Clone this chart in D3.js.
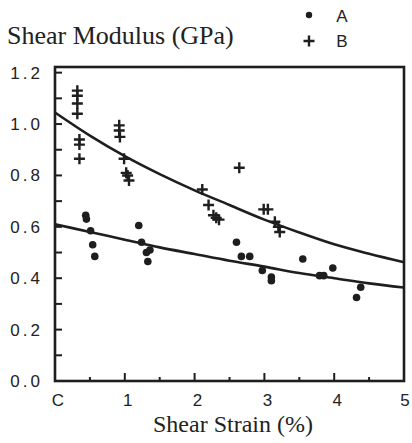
<!DOCTYPE html>
<html>
<head>
    <style>
        body { margin: 0; background: #fff; }
        .tick-label { font: 17px "Liberation Sans", Arial, sans-serif; fill: #222; }
        .serif { font-family: "Liberation Serif", "Times New Roman", serif; fill: #222; }
        .legend text { font: 17px "Liberation Sans", Arial, sans-serif; fill: #222; }
    </style>
    <script src="https://cdn.jsdelivr.net/npm/d3@7"></script>
</head>
<body>
    <svg width="412" height="443"></svg>
    <script>
        // scatter series
        var seriesAX = [0.44, 0.45, 0.51, 0.54, 0.57, 1.2, 1.24, 1.31, 1.36, 1.33, 2.6, 2.67, 2.79, 2.97, 3.1, 3.1, 3.55, 3.79, 3.85, 3.98, 4.38, 4.32];
        var seriesAY = [0.645, 0.63, 0.585, 0.53, 0.485, 0.605, 0.54, 0.50, 0.51, 0.465, 0.54, 0.485, 0.485, 0.43, 0.405, 0.39, 0.475, 0.41, 0.41, 0.44, 0.365, 0.325];

        var seriesBX = [0.32, 0.32, 0.32, 0.32, 0.35, 0.35, 0.35, 0.92, 0.92, 0.93, 0.99, 1.02, 1.04, 1.06, 2.11, 2.2, 2.27, 2.31, 2.35, 2.64, 2.99, 3.05, 3.15, 3.2, 3.22];
        var seriesBY = [1.13, 1.11, 1.08, 1.04, 0.94, 0.92, 0.865, 0.995, 0.975, 0.95, 0.865, 0.81, 0.80, 0.78, 0.745, 0.685, 0.645, 0.635, 0.628, 0.83, 0.668, 0.668, 0.62, 0.60, 0.58];

        // fitted curves
        var fitX = [0, 0.5, 1, 1.5, 2, 2.5, 3, 3.5, 4, 4.5, 5];
        var fitA = [0.61, 0.58, 0.55, 0.52, 0.494, 0.468, 0.445, 0.42, 0.40, 0.38, 0.364];
        var fitB = [1.045, 0.955, 0.875, 0.805, 0.742, 0.685, 0.628, 0.578, 0.532, 0.495, 0.462];

        var xTicks = [0, 0.5, 1, 1.5, 2, 2.5, 3, 3.5, 4, 4.5, 5];
        var xTickLabels = ["C", "1", "2", "3", "4", "5"];
        var yTicks = [0.1, 0.2, 0.3, 0.4, 0.5, 0.6, 0.7, 0.8, 0.9, 1.0, 1.1, 1.2];
        var yTickLabels = ["0.0", "0.2", "0.4", "0.6", "0.8", "1.0", "1.2"];

        var svg = d3.select("svg");
        var plotLeft = 55, plotRight = 404, plotTop = 67, plotBottom = 381;

        var x = d3.scaleLinear().domain([0, 5]).range([plotLeft, plotRight]);
        var y = d3.scaleLinear().domain([0, 1.222]).range([plotBottom, plotTop]);

        var ink = "#1e1e1e";

        // frame
        svg.append("rect")
           .attr("x", plotLeft).attr("y", plotTop)
           .attr("width", plotRight - plotLeft).attr("height", plotBottom - plotTop)
           .attr("fill", "none").attr("stroke", ink).attr("stroke-width", 2.6);

        // inward ticks
        svg.selectAll(".ytick").data(yTicks).enter().append("line")
           .attr("x1", plotLeft).attr("x2", plotLeft + 7)
           .attr("y1", function(d) { return y(d); }).attr("y2", function(d) { return y(d); })
           .attr("stroke", ink).attr("stroke-width", 2);

        svg.selectAll(".xtick").data(xTicks.slice(1, -1)).enter().append("line")
           .attr("x1", function(d) { return x(d); }).attr("x2", function(d) { return x(d); })
           .attr("y1", plotBottom)
           .attr("y2", function(d) { return d % 1 === 0 ? plotBottom - 8 : plotBottom - 4; })
           .attr("stroke", ink).attr("stroke-width", 2);

        // tick labels
        svg.selectAll(".ylab").data(yTickLabels).enter().append("text")
           .attr("class", "tick-label")
           .attr("x", 43)
           .attr("y", function(d) { return y(+d) + 6; })
           .attr("text-anchor", "end")
           .style("letter-spacing", "3px")
           .text(function(d) { return d; });

        svg.selectAll(".xlab").data(xTickLabels).enter().append("text")
           .attr("class", "tick-label")
           .attr("x", function(d, i) { return x(i) + (i === 5 ? 1 : 3); })
           .attr("y", 406)
           .attr("text-anchor", "middle")
           .text(function(d) { return d; });

        // axis titles
        svg.append("text").attr("class", "serif")
           .attr("x", 7).attr("y", 44)
           .style("font-size", "26px")
           .text("Shear Modulus (GPa)");

        svg.append("text").attr("class", "serif")
           .attr("x", 233).attr("y", 432)
           .attr("text-anchor", "middle")
           .style("font-size", "24px")
           .text("Shear Strain (%)");

        // fit lines
        var line = d3.line()
                     .x(function(d) { return x(d[0]); })
                     .y(function(d) { return y(d[1]); })
                     .curve(d3.curveMonotoneX);

        [fitA, fitB].forEach(function(f) {
            svg.append("path")
               .attr("d", line(d3.zip(fitX, f)))
               .attr("fill", "none").attr("stroke", ink).attr("stroke-width", 2.6);
        });

        // points
        svg.selectAll(".dotA").data(d3.zip(seriesAX, seriesAY)).enter().append("circle")
           .attr("cx", function(d) { return x(d[0]); })
           .attr("cy", function(d) { return y(d[1]); })
           .attr("r", 3.8).attr("fill", ink);

        var plus = "M-5.5,0H5.5M0,-5.5V5.5";
        svg.selectAll(".plusB").data(d3.zip(seriesBX, seriesBY)).enter().append("path")
           .attr("d", plus)
           .attr("transform", function(d) { return "translate(" + x(d[0]) + "," + y(d[1]) + ")"; })
           .attr("stroke", ink).attr("stroke-width", 2.4).attr("fill", "none");

        // legend
        var lg = svg.append("g").attr("class", "legend");
        lg.append("circle").attr("cx", 309).attr("cy", 15).attr("r", 3.2).attr("fill", ink);
        lg.append("path").attr("d", plus).attr("transform", "translate(309,41)")
          .attr("stroke", ink).attr("stroke-width", 2.4);
        lg.append("text").attr("x", 342).attr("y", 22).attr("text-anchor", "middle").text("A");
        lg.append("text").attr("x", 342).attr("y", 47).attr("text-anchor", "middle").text("B");
    </script>
</body>
</html>
